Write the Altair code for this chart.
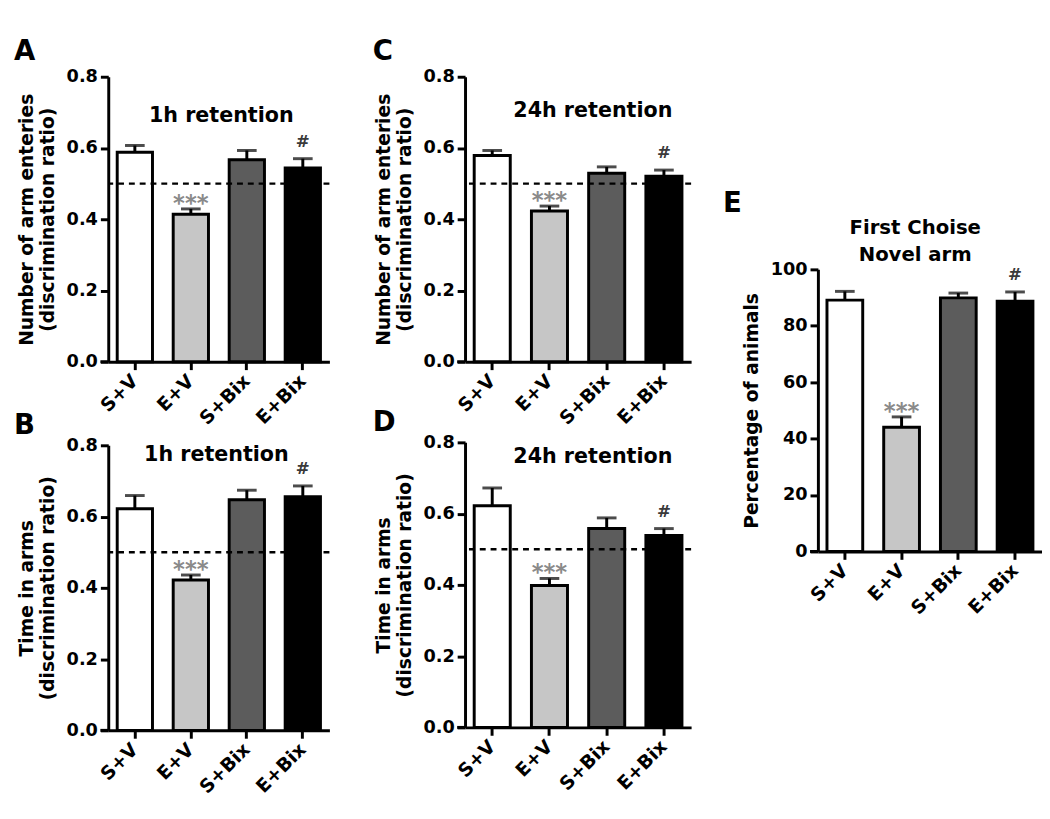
import altair as alt
import pandas as pd

groups = ["S+V", "E+V", "S+Bix", "E+Bix"]
fills = ["#ffffff", "#c6c6c6", "#5c5c5c", "#000000"]
marks = ["", "***", "", "#"]
chance = [0.5]

a_mean = [0.588, 0.414, 0.567, 0.544]
a_err = [0.019, 0.015, 0.026, 0.026]
b_mean = [0.622, 0.422, 0.647, 0.656]
b_err = [0.037, 0.014, 0.027, 0.030]
c_mean = [0.579, 0.423, 0.529, 0.521]
c_err = [0.014, 0.014, 0.018, 0.017]
d_mean = [0.622, 0.398, 0.558, 0.539]
d_err = [0.050, 0.020, 0.030, 0.019]
e_mean = [89.1, 44.0, 89.9, 88.7]
e_err = [3.1, 3.7, 1.7, 3.3]

ratio_ticks = [0.0, 0.2, 0.4, 0.6, 0.8]
pct_ticks = [0, 20, 40, 60, 80, 100]

FONT = "DejaVu Sans"


def panel(letter, means, errs, ytitle, ymax, ticks, fmt, w, h, subs,
          dashed, letter_offset, letter_dx=0):
    df = pd.DataFrame({
        "group": groups,
        "mean": means,
        "top": [m + e for m, e in zip(means, errs)],
        "mark": marks,
    })
    x = alt.X("group:N", sort=groups,
              scale=alt.Scale(domain=groups, paddingInner=0.37, paddingOuter=0.16),
              axis=alt.Axis(title=None, labelAngle=-45, labelAlign="right",
                            labelBaseline="middle", labelPadding=8))
    yscale = alt.Scale(domain=[0, ymax], nice=False, zero=True)
    yaxis = alt.Axis(title=ytitle, values=ticks, format=fmt, grid=False,
                     titlePadding=9, labelPadding=3)

    def Y(field):
        return alt.Y(field, scale=yscale, axis=yaxis)

    base = alt.Chart(df)
    err = base.mark_rule(color="black", strokeWidth=3).encode(
        x=x, y=Y("mean:Q"), y2="top:Q")
    cap = base.mark_tick(color="black", thickness=3, size=20,
                         orient="horizontal").encode(x=x, y=Y("top:Q"))
    bars = base.mark_bar(stroke="black", strokeWidth=3).encode(
        x=x, y=Y("mean:Q"),
        fill=alt.Fill("group:N", scale=alt.Scale(domain=groups, range=fills),
                      legend=None))
    stars = base.transform_filter(alt.datum.mark == "***").mark_text(
        font=FONT, fontSize=23, fontWeight="bold", color="#8a8a8a",
        baseline="alphabetic", dy=2).encode(x=x, y=Y("top:Q"), text="mark:N")
    hashes = base.transform_filter(alt.datum.mark == "#").mark_text(
        font=FONT, fontSize=17, fontWeight="bold", color="#3a3a3a",
        baseline="alphabetic", dy=-12).encode(x=x, y=Y("top:Q"), text="mark:N")
    stub = alt.Chart(pd.DataFrame({"s": [0]})).mark_rule(
        color="black", strokeWidth=3).encode(
        x=alt.value(-8), x2=alt.value(0), y=alt.value(h))
    layers = [err, bars, cap, stars, hashes, stub]
    if dashed:
        ref = alt.Chart(pd.DataFrame({"ref": chance})).mark_rule(
            color="black", strokeWidth=2.5, strokeDash=[6, 5]).encode(
            y=Y("ref:Q"))
        layers.append(ref)
    for (txt, sx, sy, fs) in subs:
        layers.append(
            alt.Chart(pd.DataFrame({"t": [txt]})).mark_text(
                font=FONT, fontSize=fs, fontWeight="bold", color="black",
                align="center", baseline="middle").encode(
                x=alt.value(sx), y=alt.value(sy), text="t:N"))
    return alt.layer(*layers).properties(
        width=w, height=h,
        title=alt.TitleParams(letter, anchor="start", frame="bounds",
                              fontSize=28, fontWeight="bold", font=FONT,
                              color="black", offset=letter_offset,
                              dx=letter_dx),
    )


A = panel("A", a_mean, a_err, ["Number of arm enteries", "(discrimination ratio)"],
          0.8, ratio_ticks, ".1f", 225, 290,
          [("1h retention", 115, 40, 21)], True, 2, -4)
B = panel("B", b_mean, b_err, ["Time in arms", "(discrimination ratio)"],
          0.8, ratio_ticks, ".1f", 225, 290,
          [("1h retention", 110, 10, 21)], True, -3, -4)
C = panel("C", c_mean, c_err, ["Number of arm enteries", "(discrimination ratio)"],
          0.8, ratio_ticks, ".1f", 230, 290,
          [("24h retention", 130, 35, 21)], True, 2, -2)
D = panel("D", d_mean, d_err, ["Time in arms", "(discrimination ratio)"],
          0.8, ratio_ticks, ".1f", 230, 290,
          [("24h retention", 130, 15, 21)], True, -3, -2)
E = panel("E", e_mean, e_err, "Percentage of animals",
          100, pct_ticks, "d", 228, 287,
          [("First Choise", 99, -42, 20), ("Novel arm", 99, -15, 20)],
          False, 0, -20)

spacer = alt.Chart(pd.DataFrame({"s": [0]})).mark_point(opacity=0).encode(
    x=alt.value(0), y=alt.value(0)).properties(width=228, height=196)

left = alt.vconcat(A, B, spacing=85, bounds="flush")
mid = alt.vconcat(C, D, spacing=82, bounds="flush")
right = alt.vconcat(spacer, E, spacing=0, bounds="flush")

chart = alt.hconcat(alt.hconcat(left, mid, spacing=42), right, spacing=30).properties(
    padding={"left": 6, "top": 24, "right": 0, "bottom": 0},
    background="white",
).configure_view(stroke=None).configure_axis(
    domainColor="black", domainWidth=3, tickColor="black", tickWidth=3,
    tickSize=8, labelFont=FONT, labelFontSize=18, labelFontWeight="bold",
    labelColor="black", titleFont=FONT, titleFontSize=19,
    titleFontWeight="bold", titleColor="black",
).configure_axisX(labelFontSize=19)

chart.save("out.html", embed_options={"renderer": "svg", "actions": False})
